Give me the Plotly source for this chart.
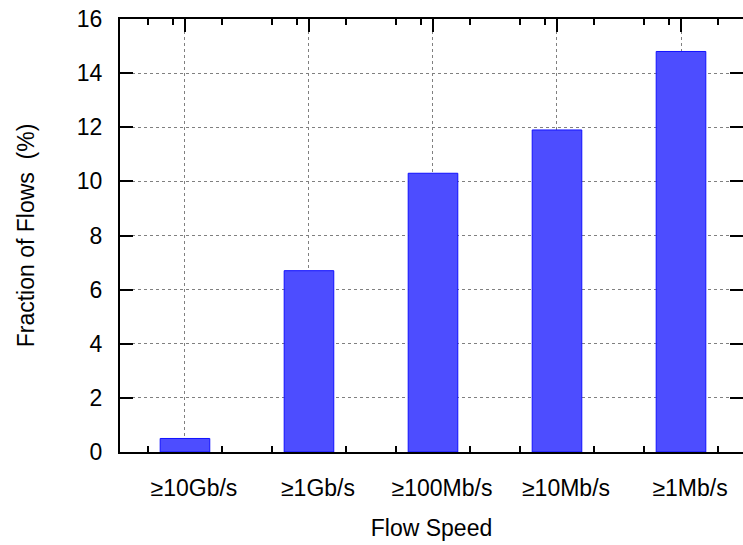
import plotly.graph_objects as go

categories = ["≥10Gb/s", "≥1Gb/s", "≥100Mb/s", "≥10Mb/s", "≥1Mb/s"]
fraction_pct = [0.5, 6.7, 10.3, 11.9, 14.8]
y_ticks = [0, 2, 4, 6, 8, 10, 12, 14, 16]

positions = list(range(len(categories)))
minor_offsets = [0.3, 0.7, 0.9]
x_lo, x_hi = -0.524, 4.5
minor_vals = [p + o for p in range(-1, len(categories)) for o in minor_offsets]
minor_vals = [v for v in minor_vals if x_lo < v < x_hi]

FONT = "Liberation Sans, Arial, Helvetica, sans-serif"

fig = go.Figure()
fig.add_trace(go.Bar(
    x=positions, y=fraction_pct, width=0.4,
    marker=dict(color="#4d4dff", line=dict(color="#1010ff", width=1)),
    showlegend=False, hoverinfo="skip",
))
# empty helper trace so the overlay axis (border lines) exists
fig.add_trace(go.Scatter(x=[], y=[], xaxis="x2", yaxis="y", showlegend=False))

fig.update_layout(
    width=743, height=545,
    margin=dict(l=120, r=0, t=19, b=93, autoexpand=False),
    paper_bgcolor="white", plot_bgcolor="white",
    font=dict(family=FONT, size=23, color="black"),
    xaxis=dict(
        range=[x_lo, x_hi], automargin=False,
        tickmode="array", tickvals=positions, ticktext=categories,
        ticks="inside", ticklen=13, tickwidth=2, tickcolor="black",
        mirror="ticks", showline=False,
        minor=dict(tickmode="array", tickvals=minor_vals, ticks="inside",
                   ticklen=6, tickwidth=2, tickcolor="black", showgrid=False),
        showgrid=True, gridcolor="#808080", gridwidth=1, griddash="dot",
        zeroline=False, layer="below traces",
        ticklabelshift=9, ticklabelstandoff=20, ticklabeloverflow="allow",
        tickfont=dict(size=23),
        title=dict(text="Flow Speed", font=dict(size=23), standoff=19),
    ),
    xaxis2=dict(
        overlaying="x", anchor="y", range=[x_lo, x_hi], automargin=False,
        showline=True, linewidth=2, linecolor="black", mirror=True,
        showticklabels=False, ticks="", showgrid=False, zeroline=False,
        layer="above traces",
    ),
    yaxis=dict(
        range=[0, 16], tickmode="array", tickvals=y_ticks, automargin=False,
        ticks="inside", ticklen=13, tickwidth=2, tickcolor="black",
        showline=True, linewidth=2, linecolor="black", mirror="ticks",
        showgrid=True, gridcolor="#808080", gridwidth=1, griddash="dot",
        zeroline=False, layer="above traces",
        ticklabelstandoff=11, ticklabeloverflow="allow",
        tickfont=dict(size=23),
        title=dict(text="Fraction of Flows\u00a0\u00a0(%)", font=dict(size=23), standoff=36),
    ),
)

# remove the browser's default 8px body margin so the figure fills the window
fig.write_html("out.html", config={"displayModeBar": False},
               post_script="document.body.style.margin='0';")
